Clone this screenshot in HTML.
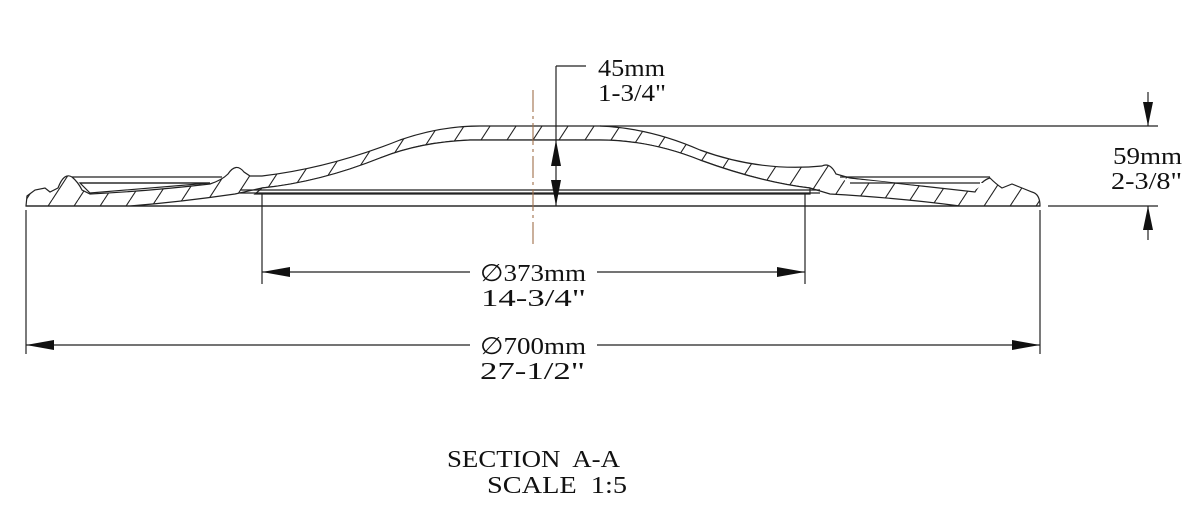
<!DOCTYPE html>
<html><head><meta charset="utf-8"><style>
html,body{margin:0;padding:0;background:#fff;}
svg{display:block}
text{font-family:"Liberation Serif",serif;fill:#111;}
</style></head><body>
<svg width="1202" height="522" viewBox="0 0 1202 522" xmlns="http://www.w3.org/2000/svg">
<defs>
<pattern id="h" patternUnits="userSpaceOnUse" width="26" height="40" patternTransform="translate(4,0)">
<line x1="-4" y1="40" x2="22" y2="0" stroke="#222" stroke-width="1.1"/>
<line x1="22" y1="40" x2="48" y2="0" stroke="#222" stroke-width="1.1"/>
</pattern>
</defs>
<g fill="none" stroke="#222" stroke-width="1.2">
<path fill="url(#h)" d="M26,206 L27,196 L35,190 L45,188 L50,192 L58,188 Q64,172 72,177 Q78,182 82,190 L90,194 Q150,191 210,184 Q222,180 228,174 Q236,162 244,172 L250,176 L262,176 Q330,168 400,140 Q440,126 480,126 L600,126 Q650,128 700,150 Q760,172 822,166 Q830,162 836,174 L850,178 Q920,186 975,192 Q982,180 990,178 Q996,184 1002,188 L1012,184 L1022,188 L1032,192 Q1040,194 1040,206 Z
M1040,206 L960,206 Q900,198 830,194 L810,188 Q760,182 700,160 Q650,140 600,140 L470,140 Q420,142 380,158 Q320,182 262,188 L235,194 Q180,202 130,206 Z"/>
<path fill="#fff" stroke="#222" d="M262,188 Q320,182 380,158 Q420,142 470,140 L600,140 Q650,140 700,160 Q760,182 810,188 L810,194 L255,194 Z"/>
<path fill="#fff" d="M80,183 L210,183 Q150,188 90,193 Z"/>
<line x1="72" y1="177" x2="222" y2="177"/>
<line x1="80" y1="183" x2="210" y2="183"/>
<path fill="#fff" d="M840,178 L975,190 L985,183 L850,183 Z" stroke="none"/>
<line x1="840" y1="177" x2="990" y2="177"/>
<line x1="850" y1="183" x2="980" y2="183"/>
<line x1="240" y1="190" x2="820" y2="190"/>
<line x1="240" y1="193" x2="820" y2="193"/>
<line x1="26" y1="206" x2="1040" y2="206"/>
<line x1="600" y1="126" x2="1158" y2="126"/>
<line x1="1048" y1="206" x2="1158" y2="206"/>
<line x1="26" y1="210" x2="26" y2="354"/>
<line x1="1040" y1="210" x2="1040" y2="354"/>
<line x1="262" y1="194" x2="262" y2="284"/>
<line x1="805" y1="194" x2="805" y2="284"/>
<line x1="262" y1="272" x2="470" y2="272"/><line x1="597" y1="272" x2="805" y2="272"/>
<line x1="26" y1="345" x2="470" y2="345"/><line x1="597" y1="345" x2="1040" y2="345"/>
<line x1="556" y1="66" x2="556" y2="206"/><line x1="556" y1="66" x2="586" y2="66"/>
<line x1="1148" y1="92" x2="1148" y2="126"/><line x1="1148" y1="206" x2="1148" y2="240"/>
</g>
<line x1="533" y1="90" x2="533" y2="246" stroke="#a0704a" stroke-width="1.1" stroke-dasharray="22,4,3,4"/>
<g fill="#111">
<polygon points="262,272 290,267 290,277"/><polygon points="805,272 777,267 777,277"/>
<polygon points="26,345 54,340 54,350"/><polygon points="1040,345 1012,340 1012,350"/>
<polygon points="556,140 551,166 561,166"/><polygon points="556,206 551,180 561,180"/>
<polygon points="1148,126 1143,102 1153,102"/><polygon points="1148,206 1143,230 1153,230"/>
</g>
<g font-size="24">
<text x="480" y="281" textLength="106" lengthAdjust="spacingAndGlyphs">∅373mm</text>
<text x="481" y="306" textLength="105" lengthAdjust="spacingAndGlyphs">14-3/4"</text>
<text x="480" y="354" textLength="106" lengthAdjust="spacingAndGlyphs">∅700mm</text>
<text x="480" y="379" textLength="105" lengthAdjust="spacingAndGlyphs">27-1/2"</text>
<text x="598" y="76" textLength="67" lengthAdjust="spacingAndGlyphs">45mm</text>
<text x="598" y="101" textLength="68" lengthAdjust="spacingAndGlyphs">1-3/4"</text>
<text x="1113" y="164" textLength="69" lengthAdjust="spacingAndGlyphs">59mm</text>
<text x="1111" y="189" textLength="71" lengthAdjust="spacingAndGlyphs">2-3/8"</text>
<text x="447" y="467" textLength="173" lengthAdjust="spacingAndGlyphs">SECTION&#160; A-A</text>
<text x="487" y="493" textLength="140" lengthAdjust="spacingAndGlyphs">SCALE&#160; 1:5</text>
</g>
</svg>
</body></html>
